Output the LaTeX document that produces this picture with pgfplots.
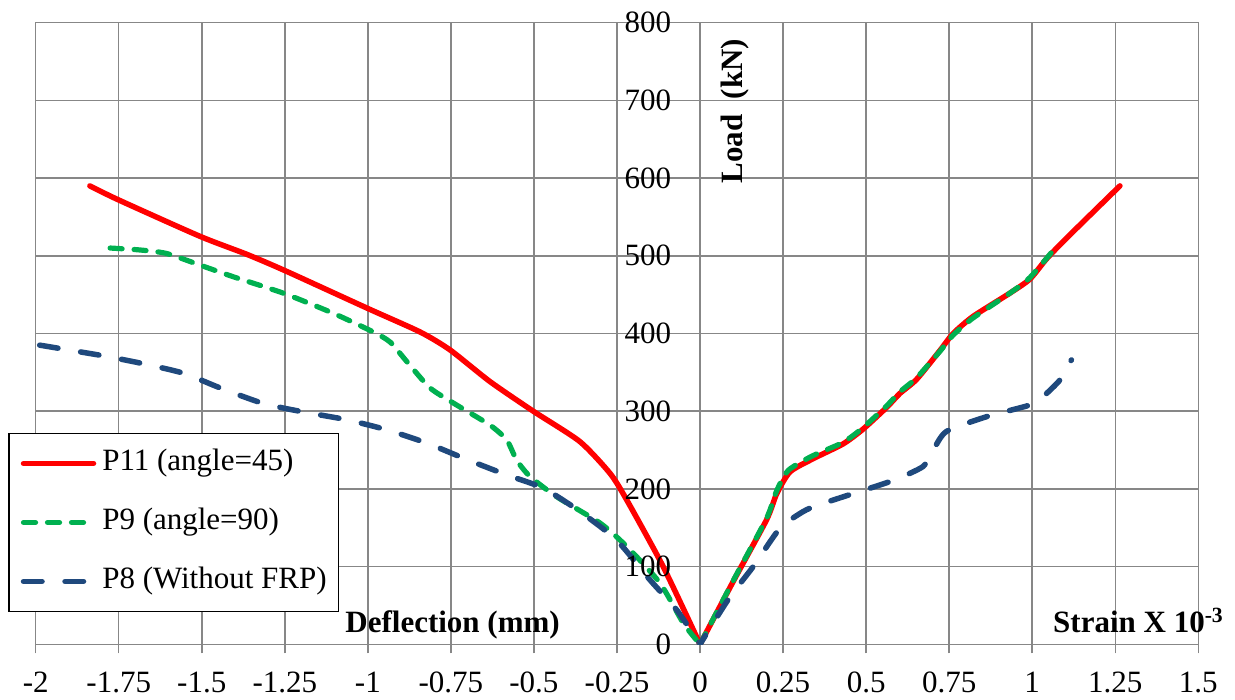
\documentclass[border=0pt]{standalone}
\usepackage{fontspec}
\setmainfont{Liberation Serif}
\usepackage{pgfplots}
\pgfplotsset{compat=1.18}
\definecolor{cred}{HTML}{FF0000}
\definecolor{cgreen}{HTML}{00B050}
\definecolor{cblue}{HTML}{1F497D}
\definecolor{cgrid}{HTML}{878787}
\begin{document}
\fontsize{15.5pt}{18pt}\selectfont
\begin{tikzpicture}
\useasboundingbox (0,0) rectangle (617.5pt,350pt);
\begin{axis}[
  at={(17.85pt,27.85pt)}, anchor=south west,
  scale only axis, width=581.3pt, height=310.8pt,
  xmin=-2, xmax=1.5, ymin=0, ymax=800,
  xtick={-2,-1.75,-1.5,-1.25,-1,-0.75,-0.5,-0.25,0,0.25,0.5,0.75,1,1.25,1.5},
  xticklabels={-2,-1.75,-1.5,-1.25,-1,-0.75,-0.5,-0.25,0,0.25,0.5,0.75,1,1.25,1.5},
  ytick={0,100,...,800}, yticklabels={},
  xtick pos=bottom, xtick align=outside, major tick length=4.5pt,
  ytick style={draw=none},
  xtick style={cgrid, line width=0.75pt},
  xticklabel style={font=\fontsize{15.5pt}{18pt}\selectfont, yshift=-4pt},
  grid=major,
  major grid style={cgrid, line width=0.75pt},
  axis line style={cgrid, line width=0.75pt},
  clip mode=individual,
  legend style={at={(-0.0238,0.3404)}, anchor=north west,
    draw=black, line width=0.75pt, fill=white,
    inner xsep=6pt, inner ysep=7.75pt,
    row sep=15pt,
    nodes={inner sep=0pt, text height=11pt, text depth=3.5pt, anchor=west},
    font=\fontsize{15.5pt}{18pt}\selectfont},
  legend cell align=left,
  legend image code/.code={\draw[#1] (0pt,0pt) -- (35pt,0pt); \path (38pt,0pt);},
  every axis plot/.append style={line cap=round, line join=round},
]
% P11 left
\addplot[cred, line width=2.75pt, smooth, tension=0.4] coordinates {
(-1.837,590) (-1.751,572) (-1.505,525) (-1.365,502) (-1.250,481) (-0.999,432)
(-0.843,402) (-0.753,379) (-0.632,338) (-0.502,300) (-0.362,261) (-0.271,220)
(-0.221,186) (-0.111,100) (0,0)};
\addlegendentry{P11 (angle=45)}
% P9 left
\addplot[cgreen, line width=2.6pt, dash pattern=on 6pt off 6pt, smooth, tension=0.4] coordinates {
(-1.776,510) (-1.686,507.5) (-1.606,503) (-1.505,488) (-1.405,473) (-1.255,452)
(-1.104,426) (-0.984,402) (-0.933,389) (-0.883,364) (-0.813,330) (-0.733,308)
(-0.632,282) (-0.582,263) (-0.552,237) (-0.512,216) (-0.432,190) (-0.301,156)
(-0.221,126) (-0.121,79) (-0.05,27) (0,0)};
\addlegendentry{P9 (angle=90)}
% P8 left
\addplot[cblue, line width=2.75pt, dash pattern=on 9.25pt off 11.5pt, smooth, tension=0.4] coordinates {
(-1.988,385) (-1.806,372) (-1.686,362) (-1.556,349) (-1.445,330) (-1.315,310)
(-1.194,299) (-1.064,289) (-0.943,276) (-0.823,259) (-0.703,238) (-0.582,218)
(-0.472,201) (-0.362,171) (-0.251,134) (-0.151,83) (-0.070,44) (0,0)};
\addlegendentry{P8 (Without FRP)}
% right branches
\addplot[cred, line width=2.75pt, smooth, tension=0.4, forget plot] coordinates {
(0,0) (0.100,81) (0.200,160) (0.231,194) (0.271,222) (0.341,239) (0.431,258)
(0.491,277) (0.562,305) (0.602,323) (0.652,341) (0.722,378) (0.762,400)
(0.822,422) (0.933,452) (0.993,470) (1.043,496) (1.104,523) (1.264,590)};
\addplot[cgreen, line width=2.6pt, dash pattern=on 6pt off 6pt, smooth, tension=0.4, forget plot] coordinates {
(0,0) (0.100,82) (0.200,162) (0.231,198) (0.266,224) (0.336,242) (0.431,260)
(0.491,279) (0.562,307) (0.602,325) (0.652,343) (0.722,377) (0.762,398)
(0.822,420) (0.933,452) (0.993,472) (1.075,513)};
\addplot[cblue, line width=2.75pt, dash pattern=on 9.25pt off 11.5pt, dash phase=4pt, smooth, tension=0.4, forget plot] coordinates {
(0,0) (0.020,14) (0.090,61) (0.160,100) (0.240,149) (0.311,171) (0.361,180)
(0.461,194) (0.582,211) (0.672,229) (0.702,250) (0.742,274) (0.863,293)
(0.993,308) (1.033,319) (1.083,340) (1.118,366)};
% y tick labels at x=0
\foreach \v in {0,100,...,800} {
  \edef\tmp{\noexpand\node[anchor=east, inner sep=0pt, xshift=-14.2pt] at (axis cs:0,\v) {\v};}
  \tmp
}
\node[font=\bfseries, rotate=90, inner sep=0pt] at ([xshift=17.5pt]axis cs:0,686) {Load\ \ (kN)};
\node[font=\bfseries, anchor=base, inner sep=0pt] at (axis cs:-0.745,14.9) {Deflection (mm)};
\node[font=\bfseries, anchor=base, inner sep=0pt] at (axis cs:1.320,14.9) {Strain X 10\textsuperscript{-3}};
\end{axis}
\end{tikzpicture}
\end{document}
